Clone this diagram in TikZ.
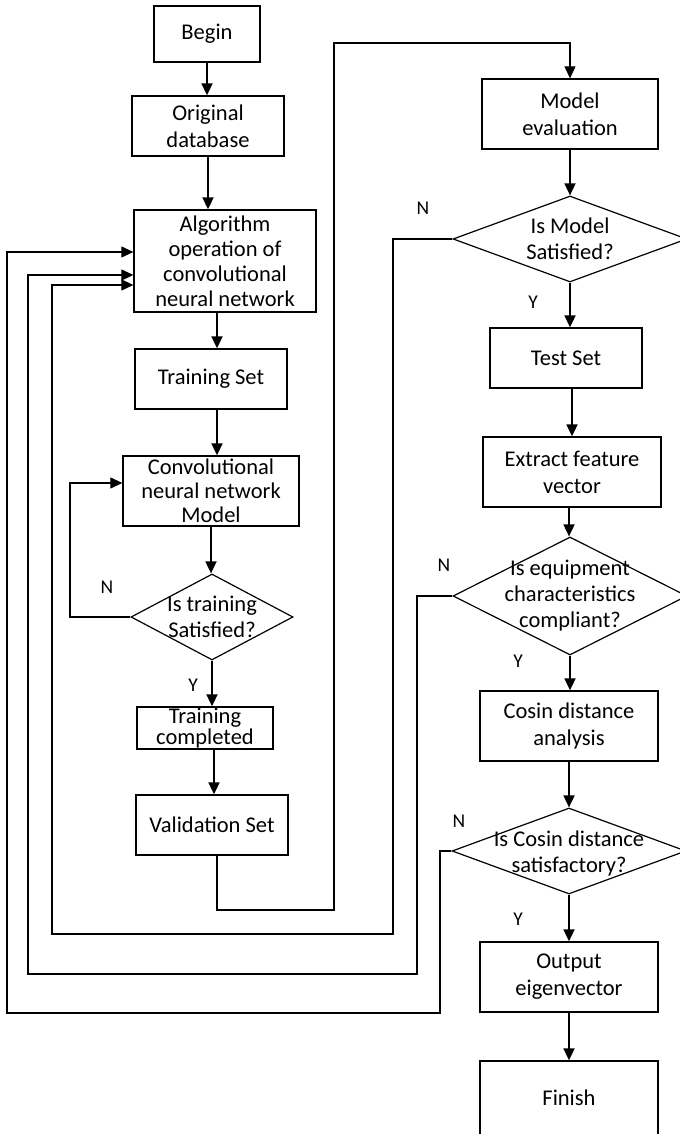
\documentclass[tikz,border=0pt]{standalone}
\usepackage{fontspec}
\setmainfont{Carlito}
\usetikzlibrary{shapes.geometric,arrows.meta,positioning}

\begin{document}
\begin{tikzpicture}[>={Triangle[length=12bp,width=11bp]},line join=miter,
  proc/.style={draw,rectangle,line width=1.3bp,inner sep=0pt,align=center,
    font=\fontsize{22.5bp}{27bp}\selectfont},
  decision/.style={draw,diamond,line width=1.2bp,inner sep=0pt},
  dtext/.style={align=center,inner sep=0pt,font=\fontsize{22.5bp}{26bp}\selectfont},
  flow/.style={->,line width=1.8bp},
  back/.style={->,line width=1.1bp},
  yn/.style={font=\fontsize{19.5bp}{22bp}\selectfont}]
%%
\useasboundingbox (0,0) rectangle (680bp,1134bp);
\node (begin) at (207bp,1100bp) [proc,minimum width=106bp,minimum height=56bp] {Begin};
  \node (orig) at (208bp,1008bp) [proc,minimum width=152bp,minimum height=60bp] {Original\\database};
  \node (algo) at (225bp,873bp) [proc,minimum width=182bp,minimum height=102bp,font=\fontsize{22.5bp}{25bp}\selectfont] {Algorithm\\operation of\\convolutional\\neural network};
  \node (train) at (211bp,755bp) [proc,minimum width=152bp,minimum height=60bp] {Training Set};
  \node (cnn) at (211bp,643bp) [proc,minimum width=176bp,minimum height=70bp,font=\fontsize{22.5bp}{24bp}\selectfont] {Convolutional\\neural network\\Model};
  \node (dtrain) at (212bp,517bp) [decision,minimum width=162bp,minimum height=86bp,label={[dtext]center:{Is training\\Satisfied?}}] {};
  \node (done) at (205bp,406bp) [proc,minimum width=136bp,minimum height=42bp,font=\fontsize{22.5bp}{19bp}\selectfont] {Training\\completed};
  \node (valid) at (212bp,309bp) [proc,minimum width=152bp,minimum height=60bp] {Validation Set};
  \node (eval) at (570bp,1020bp) [proc,minimum width=176bp,minimum height=70bp] {Model\\evaluation};
  \node (dmodel) at (570bp,895bp) [decision,minimum width=234bp,minimum height=86bp,label={[dtext]center:{Is Model\\Satisfied?}}] {};
  \node (test) at (566bp,776bp) [proc,minimum width=152bp,minimum height=60bp] {Test Set};
  \node (feat) at (572bp,662bp) [proc,minimum width=178bp,minimum height=70bp] {Extract feature\\vector};
  \node (dequip) at (570bp,538bp) [decision,minimum width=234bp,minimum height=118bp,label={[dtext]center:{Is equipment\\characteristics\\compliant?}}] {};
  \node (cosa) at (569bp,408bp) [proc,minimum width=178bp,minimum height=70bp] {Cosin distance\\analysis};
  \node (dcos) at (569bp,283bp) [decision,minimum width=234bp,minimum height=86bp,label={[dtext,yshift=-3bp]center:{Is Cosin distance\\satisfactory?}}] {};
  \node (outp) at (569bp,157bp) [proc,minimum width=178bp,minimum height=70bp] {Output\\eigenvector};
  \node (fin) at (569bp,36bp) [proc,minimum width=178bp,minimum height=74bp] {Finish};
  \node (nmodel) at (423bp,926bp) [yn] {N};
  \node (ymodel) at (533bp,832bp) [yn] {Y};
  \node (ntrain) at (107bp,547bp) [yn] {N};
  \node (ytrain) at (193bp,449bp) [yn] {Y};
  \node (nequip) at (444bp,569bp) [yn] {N};
  \node (yequip) at (518bp,473bp) [yn] {Y};
  \node (ncos) at (459bp,313bp) [yn] {N};
  \node (ycos) at (518bp,215bp) [yn] {Y};
%
  \draw [flow] (begin.south) -- (begin.south |- orig.north);
  \draw [flow] (orig.south) -- (orig.south |- algo.north);
  \draw [flow] ([xshift=-8bp]algo.south) -- ([xshift=-8bp]algo.south |- train.north);
  \draw [flow] ([xshift=6bp]train.south) -- ([xshift=6bp]train.south |- cnn.north);
  \draw [flow] (cnn.south) -- (cnn.south |- dtrain.north);
  \draw [flow] (dtrain.south) -- (dtrain.south |- done.north);
  \draw [flow] ([xshift=9bp]done.south) -- ([xshift=9bp]done.south |- valid.north);
  \draw [back] ([xshift=5bp]valid.south) |- (334bp,224bp) |- (eval.north |- 0,1091bp) -- (eval.north);
  \draw [flow] (eval.south) -- (dmodel.north);
  \draw [flow] (dmodel.south) -- (dmodel.south |- test.north);
  \draw [flow] ([xshift=6bp]test.south) -- ([xshift=6bp]test.south |- feat.north);
  \draw [flow] ([xshift=-3bp]feat.south) -- ([xshift=-3bp]feat.south |- dequip.north);
  \draw [flow] (dequip.south) -- (dequip.south |- cosa.north);
  \draw [flow] (cosa.south) -- (cosa.south |- dcos.north);
  \draw [flow] (dcos.south) -- (dcos.south |- outp.north);
  \draw [flow] (outp.south) -- (outp.south |- fin.north);
  \draw [back] (dtrain.west) -- (70bp,517bp) |- ([yshift=8bp]cnn.west);
  \draw [back] (dmodel.west) -| (393bp,200bp) -- (52bp,200bp) |- ([yshift=-24bp]algo.west);
  \draw [back] (dequip.west) -| (417bp,160bp) -- (28bp,160bp) |- ([yshift=-14bp]algo.west);
  \draw [back] (dcos.west) -| (440bp,121bp) -- (7bp,121bp) |- ([yshift=9bp]algo.west);
%
\end{tikzpicture}
\end{document}
